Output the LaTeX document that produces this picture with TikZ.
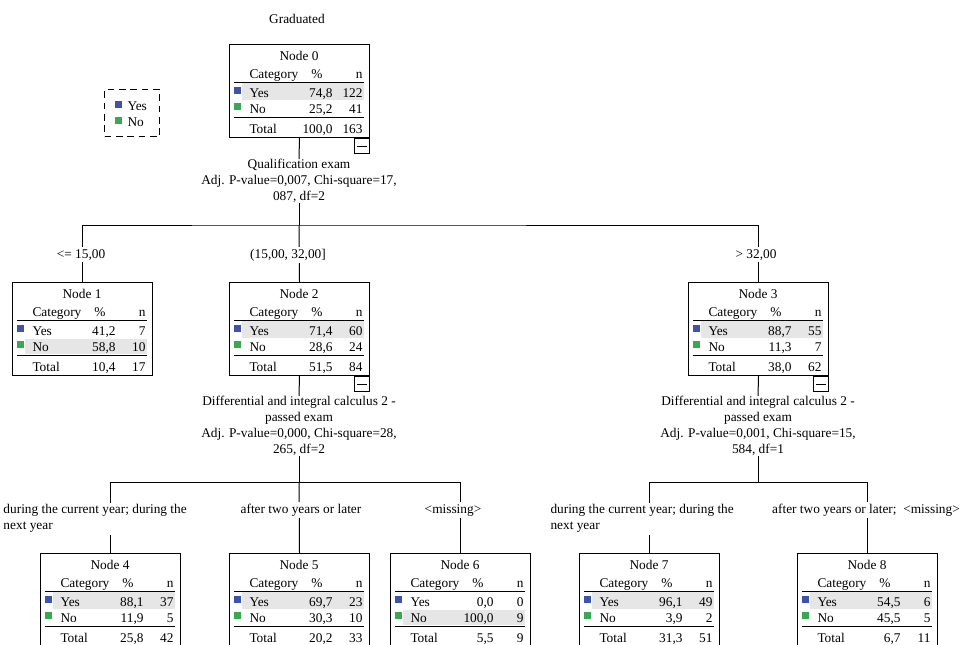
\documentclass[tikz,border=0pt]{standalone}
\usepackage{fontspec}
\setmainfont{Liberation Serif}

\definecolor{yescol}{RGB}{62,84,168}
\definecolor{nocol}{RGB}{58,168,82}
\definecolor{rowgray}{RGB}{230,230,230}

\tikzset{
  tbox/.style={draw, minimum width=105pt, minimum height=69.75pt, inner sep=0pt},
  cell/.style={inner sep=0pt},
  mbox/.style={draw, minimum size=11.25pt, inner sep=0pt},
  lbl/.style={fill=white, inner sep=1.5pt},
  split/.style={align=center, inner sep=0pt},
  legbox/.style={draw, dash pattern=on 5pt off 3.5pt, minimum width=41.25pt, minimum height=35.25pt, inner sep=0pt},
}

% one tree node: name, top left, number, yes %, yes n, no %, no n, total %, total n
\newcommand{\nodetable}[9]{%
  \node[tbox, anchor=north west] (#1) at (#2) {};
  \ifnum#5<#7\relax
    \fill[rowgray] ([shift={(13,57)}]#1.north west) rectangle ([shift={(135,72)}]#1.north west);
  \else
    \fill[rowgray] ([shift={(13,39)}]#1.north west) rectangle ([shift={(135,56)}]#1.north west);
  \fi
  \node[cell, anchor=base] at ([shift={(70,16)}]#1.north west) {Node #3};
  \node[cell, anchor=base west] at ([shift={(20,34)}]#1.north west) {Category};
  \node[cell, anchor=base] at ([shift={(88,34)}]#1.north west) {\%};
  \node[cell, anchor=base east] at ([shift={(134,34)}]#1.north west) {n};
  \draw ([shift={(5,38)}]#1.north west) -- ([shift={(135,38)}]#1.north west);
  \fill[yescol] ([shift={(5,43)}]#1.north west) rectangle +(7,7);
  \node[cell, anchor=base west] at ([shift={(20,53)}]#1.north west) {Yes};
  \node[cell, anchor=base east] at ([shift={(104,53)}]#1.north west) {#4};
  \node[cell, anchor=base east] at ([shift={(134,53)}]#1.north west) {#5};
  \fill[nocol] ([shift={(5,59)}]#1.north west) rectangle +(7,7);
  \node[cell, anchor=base west] at ([shift={(20,69)}]#1.north west) {No};
  \node[cell, anchor=base east] at ([shift={(104,69)}]#1.north west) {#6};
  \node[cell, anchor=base east] at ([shift={(134,69)}]#1.north west) {#7};
  \draw ([shift={(5,73)}]#1.north west) -- ([shift={(135,73)}]#1.north west);
  \node[cell, anchor=base west] at ([shift={(20,89)}]#1.north west) {Total};
  \node[cell, anchor=base east] at ([shift={(104,89)}]#1.north west) {#8};
  \node[cell, anchor=base east] at ([shift={(134,89)}]#1.north west) {#9};
}

% collapse box under a split node
\newcommand{\minusbox}[1]{%
  \node[mbox, anchor=north east] (m#1) at (#1.south east) {};
  \draw ([xshift=-3.5pt]m#1.center) -- ([xshift=3.5pt]m#1.center);
}

\begin{document}
\begin{tikzpicture}[x=0.75pt, y=-0.75pt, line width=0.75pt]
    \useasboundingbox (0,0) rectangle (966,644);
    \node[cell, anchor=base] (title) at (297,23) {Graduated};
    % Legend
    \node[legbox, anchor=north west] (leg) at (104,89) {};
    \fill[yescol] (115,101) rectangle (122,108);
    \node[cell, anchor=base west] (lyes) at (127,110) {Yes};
    \fill[nocol] (115,117) rectangle (122,124);
    \node[cell, anchor=base west] (lno) at (127,126) {No};
    % Root
    \nodetable{n0}{229,44}{0}{74,8}{122}{25,2}{41}{100,0}{163}
    \minusbox{n0}
    \node[split, anchor=north] (s0) at (299,159) {Qualification exam\\Adj. P-value=0,007, Chi-square=17,\\087, df=2};
    % First split
    \nodetable{n1}{12,282}{1}{41,2}{7}{58,8}{10}{10,4}{17}
    \nodetable{n2}{229,282}{2}{71,4}{60}{28,6}{24}{51,5}{84}
    \nodetable{n3}{688,282}{3}{88,7}{55}{11,3}{7}{38,0}{62}
    \minusbox{n2}
    \minusbox{n3}
    \node[split, anchor=north] (s2) at (299,396) {Differential and integral calculus 2 -\\passed exam\\Adj. P-value=0,000, Chi-square=28,\\265, df=2};
    \node[split, anchor=north] (s3) at (758,396) {Differential and integral calculus 2 -\\passed exam\\Adj. P-value=0,001, Chi-square=15,\\584, df=1};
    % Second splits
    \nodetable{n4}{40,553}{4}{88,1}{37}{11,9}{5}{25,8}{42}
    \nodetable{n5}{229,553}{5}{69,7}{23}{30,3}{10}{20,2}{33}
    \nodetable{n6}{390,553}{6}{0,0}{0}{100,0}{9}{5,5}{9}
    \nodetable{n7}{579,553}{7}{96,1}{49}{3,9}{2}{31,3}{51}
    \nodetable{n8}{797,553}{8}{54,5}{6}{45,5}{5}{6,7}{11}
    % Branches
    \coordinate (j0) at (299,225);
    \coordinate (j2) at (299,482);
    \coordinate (j3) at (758,482);
    \draw (n0.south) -- (s0.north);
    \draw (s0.south) -- (j0);
    \draw (n1.north) |- (j0) -| (n3.north);
    \draw (j0) -- (n2.north);
    \draw (n2.south) -- (s2.north);
    \draw (s2.south) -- (j2);
    \draw (n4.north) |- (j2) -| (n6.north);
    \draw (j2) -- (n5.north);
    \draw (n3.south) -- (s3.north);
    \draw (s3.south) -- (j3);
    \draw (n7.north) |- (j3) -| (n8.north);
    % Branch labels
    \node[lbl, anchor=base] (l1) at (81,258) {<= 15,00};
    \node[lbl, anchor=base] (l2) at (288,258) {(15,00, 32,00]};
    \node[lbl, anchor=base] (l3) at (756,258) {> 32,00};
    \node[lbl, anchor=north west, align=left] (l4) at (1,502) {during the current year; during the\\next year};
    \node[lbl, anchor=base] (l5) at (301,513) {after two years or later};
    \node[lbl, anchor=base] (l6) at (453,513) {<missing>};
    \node[lbl, anchor=north west, align=left] (l7) at (548,502) {during the current year; during the\\next year};
    \node[lbl, anchor=base] (l8) at (866,513) {after two years or later;\ \ <missing>};
\end{tikzpicture}
\end{document}
